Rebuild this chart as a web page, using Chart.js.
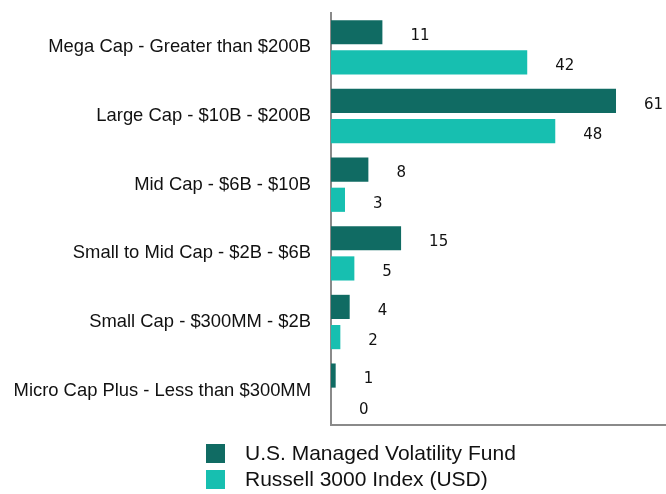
<!DOCTYPE html>
<html><head><meta charset="utf-8">
<script src="https://cdn.jsdelivr.net/npm/chart.js@4"></script>
<style>html,body{margin:0;padding:0;background:#fff}#wrap{width:666px;height:494px}</style>
</head><body><div id="wrap"><canvas id="c" width="666" height="494"></canvas></div>
<script>
const categories = ["Mega Cap - Greater than $200B","Large Cap - $10B - $200B","Mid Cap - $6B - $10B","Small to Mid Cap - $2B - $6B","Small Cap - $300MM - $2B","Micro Cap Plus - Less than $300MM"];
const seriesNames = ["U.S. Managed Volatility Fund","Russell 3000 Index (USD)"];
const fundValues = [11, 61, 8, 15, 4, 1];
const indexValues = [42, 48, 3, 5, 2, 0];
const colors = ["#106b63", "#17bfb0"];

const valueLabels = {
  id: 'valueLabels',
  afterDatasetsDraw(chart) {
    const ctx = chart.ctx;
    ctx.save();
    ctx.font = '15px "DejaVu Sans"';
    ctx.fillStyle = '#111';
    ctx.textAlign = 'left';
    ctx.textBaseline = 'middle';
    chart.data.datasets.forEach((ds, i) => {
      chart.getDatasetMeta(i).data.forEach((bar, j) => {
        ctx.fillText(String(ds.data[j]), bar.x + 28, bar.y + 4);
      });
    });
    ctx.restore();
  }
};
const customLegend = {
  id: 'customLegend',
  afterDraw(chart) {
    const ctx = chart.ctx;
    ctx.save();
    ctx.font = '21px "Liberation Sans"';
    ctx.textBaseline = 'middle';
    ctx.textAlign = 'left';
    chart.data.datasets.forEach((ds, i) => {
      const y = 444 + i * 26;
      ctx.fillStyle = ds.backgroundColor;
      ctx.fillRect(206, y, 19, 19);
      ctx.fillStyle = '#111';
      ctx.fillText(ds.label, 245, y + 10);
    });
    ctx.restore();
  }
};

new Chart(document.getElementById('c'), {
  type: 'bar',
  data: {
    labels: categories,
    datasets: [
      {label: seriesNames[0], data: fundValues, backgroundColor: colors[0]},
      {label: seriesNames[1], data: indexValues, backgroundColor: colors[1]}
    ]
  },
  options: {
    indexAxis: 'y',
    responsive: false,
    animation: false,
    categoryPercentage: 0.88,
    barPercentage: 0.8,
    layout: {padding: {top: 13, bottom: 69, left: 0, right: 0}},
    plugins: {legend: {display: false}, tooltip: {enabled: false}},
    scales: {
      x: {
        min: 0, max: 71.7,
        ticks: {display: false},
        grid: {display: false, drawTicks: false},
        border: {display: true, color: '#8a8a8a', width: 2}
      },
      y: {
        ticks: {color: '#111', font: {family: '"Liberation Sans"', size: 18.4}, padding: 0},
        grid: {display: false, drawTicks: true, tickLength: 20},
        border: {display: true, color: '#8a8a8a', width: 2},
        afterFit(scale) { scale.width = 331; }
      }
    }
  },
  plugins: [valueLabels, customLegend]
});
</script></body></html>
